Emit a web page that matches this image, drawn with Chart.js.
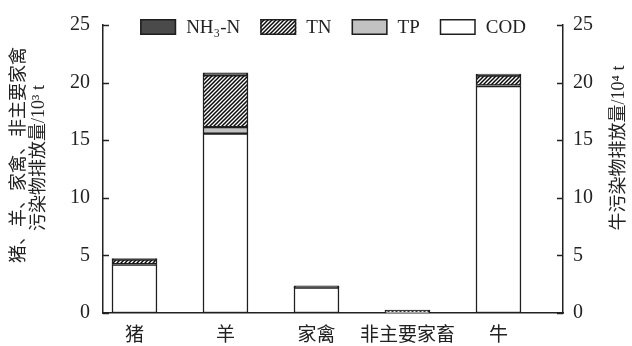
<!DOCTYPE html>
<html>
<head>
<meta charset="utf-8">
<script src="https://cdn.jsdelivr.net/npm/chart.js@4.4.1/dist/chart.umd.min.js"></script>
<style>
  html, body { margin: 0; padding: 0; background: #ffffff; }
  canvas { display: block; }
</style>
</head>
<body>
<canvas id="c" width="632" height="346"></canvas>
<script>
// Livestock pollutant discharge by animal type.
// Pig, sheep, poultry and minor livestock in 10^3 t (left axis); cattle in 10^4 t (right axis).
const categories = ['猪', '羊', '家禽', '非主要家畜', '牛'];
const codValues  = [4.21, 15.57, 2.20, 0.05, 19.70];
const tpValues   = [0.03, 0.56, 0.02, 0.01, 0.05];
const tnValues   = [0.40, 4.50, 0.03, 0.15, 0.85];
const nh3nValues = [0.08, 0.22, 0.10, 0.04, 0.15];
const yTicks = [0, 5, 10, 15, 20, 25];

const leftTitle = ['猪、羊、家禽、非主要家禽', '污染物排放量/10³ t'];
const rightTitle = '牛污染物排放量/10⁴ t';

const SERIF = "'Liberation Serif', 'Noto Sans CJK SC', serif";
const CJK = "'Noto Sans CJK SC', 'Liberation Serif', sans-serif";
const INK = '#222222';

// diagonal hatch used for TN
function makeHatch() {
  const s = 4;
  const p = document.createElement('canvas');
  p.width = s; p.height = s;
  const g = p.getContext('2d');
  g.fillStyle = '#ffffff';
  g.fillRect(0, 0, s, s);
  g.strokeStyle = '#0a0a0a';
  g.lineWidth = 1.5;
  g.beginPath();
  g.moveTo(-1, s + 1); g.lineTo(s + 1, -1);
  g.moveTo(-1, 1); g.lineTo(1, -1);
  g.moveTo(s - 1, s + 1); g.lineTo(s + 1, s - 1);
  g.stroke();
  return g.createPattern(p, 'repeat');
}
const hatch = makeHatch();

const toPoints = arr => arr.map((v, i) => ({ x: i, y: v }));

const barStyle = {
  borderColor: '#1e1e1e',
  borderWidth: 1.5,
  borderSkipped: false,
  barThickness: 45,
  yAxisID: 'y'
};

// stacked bottom-to-top: COD, TP, TN, NH3-N
const datasets = [
  Object.assign({ label: 'COD',   data: toPoints(codValues),  backgroundColor: '#ffffff' }, barStyle),
  Object.assign({ label: 'TP',    data: toPoints(tpValues),   backgroundColor: '#c2c2c2' }, barStyle),
  Object.assign({ label: 'TN',    data: toPoints(tnValues),   backgroundColor: hatch }, barStyle),
  Object.assign({ label: 'NH₃-N', data: toPoints(nh3nValues), backgroundColor: '#4a4a4a' }, barStyle)
];

// inward tick marks on both value axes
const inwardTicks = {
  id: 'inwardTicks',
  afterDatasetsDraw(chart) {
    const ctx = chart.ctx;
    ctx.save();
    ctx.strokeStyle = INK;
    ctx.lineWidth = 1.5;
    ['y', 'y2'].forEach(id => {
      const sc = chart.scales[id];
      const x0 = id === 'y' ? sc.right : sc.left;
      const dir = id === 'y' ? 1 : -1;
      sc.ticks.forEach(t => {
        const py = Math.round(sc.getPixelForValue(t.value)) + 0.5;
        ctx.beginPath();
        ctx.moveTo(x0, py);
        ctx.lineTo(x0 + dir * 6, py);
        ctx.stroke();
      });
    });
    ctx.restore();
  }
};

// legend row drawn across the top of the plot, NH3-N first
const legendRow = {
  id: 'legendRow',
  afterDraw(chart) {
    const ctx = chart.ctx;
    const area = chart.chartArea;
    const items = chart.data.datasets.slice().reverse();
    const boxW = 36, boxH = 16, gap = 10, pad = 20;
    ctx.save();
    ctx.font = '19px ' + SERIF;
    const widths = items.map(d => boxW + gap + ctx.measureText(d.label).width);
    const total = widths.reduce((a, b) => a + b, 0) + pad * (items.length - 1);
    let x = (area.left + area.right) / 2 - total / 2;
    const y = 19;
    items.forEach((d, i) => {
      ctx.fillStyle = d.backgroundColor;
      ctx.fillRect(x, y, boxW, boxH);
      ctx.strokeStyle = '#1e1e1e';
      ctx.lineWidth = 1.5;
      ctx.strokeRect(x + 0.75, y + 0.75, boxW - 1.5, boxH - 1.5);
      ctx.fillStyle = INK;
      ctx.textAlign = 'left';
      ctx.textBaseline = 'middle';
      ctx.fillText(d.label, x + boxW + gap, y + boxH / 2 + 1);
      x += widths[i] + pad;
    });
    ctx.restore();
  }
};

// vertical axis titles reading bottom to top
const axisTitles = {
  id: 'axisTitles',
  afterDraw(chart) {
    const ctx = chart.ctx;
    ctx.save();
    ctx.font = '18px ' + SERIF;
    ctx.fillStyle = INK;
    ctx.textAlign = 'center';
    ctx.textBaseline = 'middle';
    const put = (text, x, y) => {
      ctx.save();
      ctx.translate(x, y);
      ctx.rotate(-Math.PI / 2);
      ctx.fillText(text, 0, 0);
      ctx.restore();
    };
    put(leftTitle[0], 19, 155);
    put(leftTitle[1], 39, 158);
    put(rightTitle, 619, 148);
    ctx.restore();
  }
};

const valueAxis = (position, padding, width) => ({
  type: 'linear',
  position: position,
  min: 0,
  max: 25,
  grid: { display: false, drawTicks: false },
  border: { display: true, color: INK, width: 1.5 },
  ticks: {
    stepSize: 5,
    padding: padding,
    color: INK,
    font: { family: SERIF, size: 20 },
    callback: v => (yTicks.includes(v) ? String(v) : '')
  },
  afterFit: sc => { sc.width = width; }
});

new Chart(document.getElementById('c'), {
  type: 'bar',
  data: { datasets: datasets },
  plugins: [inwardTicks, legendRow, axisTitles],
  options: {
    responsive: false,
    animation: false,
    devicePixelRatio: 1,
    layout: { padding: { top: 18, left: 0, right: 0, bottom: 0 } },
    plugins: { legend: { display: false }, tooltip: { enabled: false } },
    scales: {
      x: {
        type: 'linear',
        position: 'bottom',
        stacked: true,
        offset: false,
        min: -0.346,
        max: 4.709,
        grid: { display: false, drawTicks: false, offset: false },
        border: { display: true, color: INK, width: 1.5 },
        ticks: {
          stepSize: 1,
          includeBounds: false,
          autoSkip: false,
          maxRotation: 0,
          padding: 9,
          color: INK,
          font: { family: CJK, size: 19 },
          callback: v => (Number.isInteger(v) && categories[v] !== undefined ? categories[v] : '')
        },
        afterFit: sc => { sc.height = 33; }
      },
      y: Object.assign(valueAxis('left', 13, 103), { stacked: true }),
      y2: valueAxis('right', 10, 69)
    }
  }
});
</script>
</body>
</html>
